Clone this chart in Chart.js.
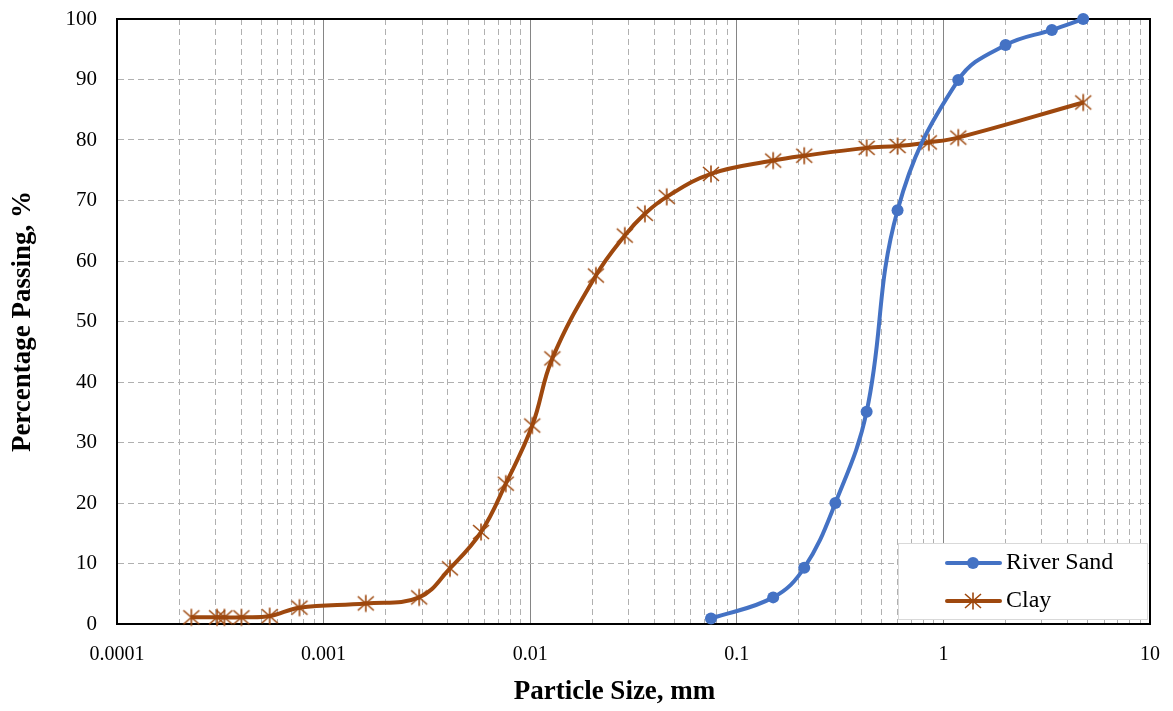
<!DOCTYPE html>
<html><head><meta charset="utf-8">
<script src="https://cdn.jsdelivr.net/npm/chart.js@4"></script>
<style>html,body{margin:0;padding:0;background:#fff;}#wrap{width:1173px;height:711px;position:relative;}</style>
</head><body><div id="wrap"><canvas id="c" width="1173" height="711"></canvas></div>
<script>
// ---- data ----
const seriesNames = ['River Sand', 'Clay'];
const riverSize = [0.075, 0.15, 0.212, 0.3, 0.425, 0.6, 1.18, 2.0, 3.35, 4.75];
const riverPassing = [0.9, 4.4, 9.3, 20.0, 35.1, 68.4, 89.9, 95.7, 98.2, 100];
const claySize = [0.000229, 0.000305, 0.000331, 0.000400, 0.000548, 0.000764, 0.00160, 0.00290, 0.00409, 0.00578, 0.00762, 0.01023, 0.0128, 0.0208, 0.0287, 0.0359, 0.0458, 0.075, 0.15, 0.212, 0.425, 0.6, 0.85, 1.18, 4.75];
const clayPassing = [1.1, 1.1, 1.1, 1.1, 1.3, 2.7, 3.4, 4.4, 9.2, 15.2, 23.2, 32.8, 43.9, 57.6, 64.2, 67.8, 70.6, 74.4, 76.6, 77.4, 78.7, 79.0, 79.6, 80.4, 86.2];
const xTickValues = [0.0001, 0.001, 0.01, 0.1, 1, 10];
const xTickLabels = ['0.0001', '0.001', '0.01', '0.1', '1', '10'];
const yTickValues = [0, 10, 20, 30, 40, 50, 60, 70, 80, 90, 100];
const xTitle = 'Particle Size, mm';
const yTitle = 'Percentage Passing, %';

// ---- styles ----
const BLUE = '#4472C4';
const BROWN = '#9E480E';
const FONT = "'Liberation Serif', 'Times New Roman', serif";

function makeStar(color) {
  const s = 20, c = document.createElement('canvas');
  c.width = s; c.height = s;
  const g = c.getContext('2d');
  g.strokeStyle = color; g.lineWidth = 1.6; g.lineCap = 'butt';
  const cx = s / 2, cy = s / 2;
  g.beginPath();
  g.moveTo(cx, cy - 8.5); g.lineTo(cx, cy + 8.5);
  g.moveTo(cx - 8, cy - 7); g.lineTo(cx + 8, cy + 7);
  g.moveTo(cx - 8, cy + 7); g.lineTo(cx + 8, cy - 7);
  g.stroke();
  return c;
}
const starImg = makeStar(BROWN);

function isMajor(v) {
  const l = Math.log10(v);
  return Math.abs(l - Math.round(l)) < 1e-9;
}
function toPoints(xs, ys) { return xs.map((x, i) => ({ x: x, y: ys[i] })); }

const frame = {
  id: 'frame',
  beforeDatasetsDraw(chart) {
    const a = chart.chartArea, ctx = chart.ctx;
    ctx.save();
    ctx.strokeStyle = '#000'; ctx.lineWidth = 2;
    ctx.strokeRect(a.left, a.top, a.right - a.left, a.bottom - a.top);
    ctx.restore();
  },
  afterDatasetsDraw(chart) {
    const ctx = chart.ctx;
    const box = { x: 898, y: 543, w: 249, h: 76 };
    ctx.save();
    ctx.fillStyle = '#fff';
    ctx.fillRect(box.x, box.y, box.w, box.h);
    ctx.strokeStyle = '#d9d9d9'; ctx.lineWidth = 1;
    ctx.strokeRect(box.x + 0.5, box.y + 0.5, box.w, box.h);
    chart.data.datasets.forEach((ds, i) => {
      const y = box.y + 20 + i * 38;
      ctx.strokeStyle = ds.borderColor; ctx.lineWidth = 4; ctx.lineCap = 'round';
      ctx.beginPath(); ctx.moveTo(947, y); ctx.lineTo(1000, y); ctx.stroke();
      if (ds.pointStyle === 'circle') {
        ctx.fillStyle = ds.backgroundColor;
        ctx.beginPath(); ctx.arc(973, y, 6, 0, Math.PI * 2); ctx.fill();
      } else {
        ctx.drawImage(starImg, 973 - 10, y - 10);
      }
      ctx.fillStyle = '#000';
      ctx.font = '24px ' + FONT;
      ctx.textBaseline = 'middle'; ctx.textAlign = 'left';
      ctx.fillText(ds.label, 1006, y);
    });
    ctx.restore();
  }
};

new Chart(document.getElementById('c'), {
  type: 'scatter',
  data: {
    datasets: [
      {
        label: seriesNames[0], data: toPoints(riverSize, riverPassing), showLine: true,
        borderColor: BLUE, backgroundColor: BLUE, borderWidth: 4, tension: 0.4,
        pointStyle: 'circle', pointRadius: 6, pointBorderWidth: 0, pointBackgroundColor: BLUE,
        clip: false
      },
      {
        label: seriesNames[1], data: toPoints(claySize, clayPassing), showLine: true,
        borderColor: BROWN, backgroundColor: BROWN, borderWidth: 4, tension: 0.4,
        pointStyle: starImg, pointRadius: 9, clip: false
      }
    ]
  },
  options: {
    responsive: false, animation: false, devicePixelRatio: 1,
    layout: { autoPadding: false, padding: { top: 19, right: 23, left: 0, bottom: 0 } },
    plugins: { legend: { display: false }, tooltip: { enabled: false } },
    scales: {
      x: {
        type: 'logarithmic', min: xTickValues[0], max: xTickValues[xTickValues.length - 1],
        afterBuildTicks(scale) {
          const t = [];
          for (let e = -4; e <= 1; e++) {
            for (let m = 1; m <= 9; m++) {
              const v = m * Math.pow(10, e);
              if (v <= 10 * (1 + 1e-9)) t.push({ value: v, major: m === 1 });
            }
          }
          scale.ticks = t;
        },
        afterFit(scale) {
          scale.height = 87;
          if (!scale._titleShifted) {
            const orig = scale.drawTitle;
            scale.drawTitle = function () {
              this.ctx.save(); this.ctx.translate(-19, 0);
              orig.call(this);
              this.ctx.restore();
            };
            scale._titleShifted = true;
          }
        },
        ticks: {
          autoSkip: false, maxRotation: 0, minRotation: 0, padding: 0, color: '#000',
          font: { family: FONT, size: 20 },
          callback(v) {
            const i = xTickValues.findIndex(t => Math.abs(t - v) / t < 1e-6);
            return i >= 0 ? xTickLabels[i] : '';
          }
        },
        grid: {
          drawTicks: true, tickLength: 19, tickColor: 'rgba(0,0,0,0)', lineWidth: 1,
          color: ctx => (ctx.tick && isMajor(ctx.tick.value)) ? '#858585' : '#b0b0b0'
        },
        border: {
          display: true, color: '#000', width: 2,
          dash: ctx => (ctx.tick && !isMajor(ctx.tick.value)) ? [6, 4] : []
        },
        title: {
          display: true, text: xTitle, color: '#000',
          font: { family: FONT, size: 27, weight: 'bold' }, padding: { top: 0, bottom: 3 }
        }
      },
      y: {
        type: 'linear', min: 0, max: 100,
        afterBuildTicks(scale) { scale.ticks = yTickValues.map(v => ({ value: v })); },
        afterFit(scale) { scale.width = 117; },
        ticks: { padding: 0, color: '#000', font: { family: FONT, size: 21 } },
        grid: { drawTicks: true, tickLength: 20, tickColor: 'rgba(0,0,0,0)', lineWidth: 1, color: '#b0b0b0' },
        border: { display: true, color: '#000', width: 2, dash: ctx => ctx.tick ? [6, 4] : [] },
        title: {
          display: true, text: yTitle, color: '#000',
          font: { family: FONT, size: 27, weight: 'bold' }, padding: { top: 7, bottom: 0 }
        }
      }
    }
  },
  plugins: [frame]
});
</script></body></html>
